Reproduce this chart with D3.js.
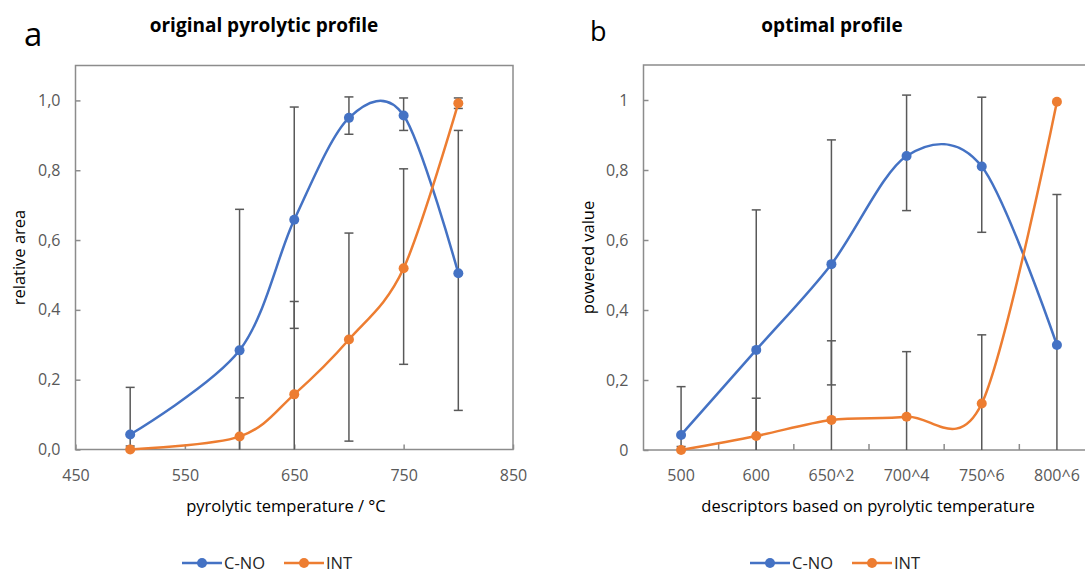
<!DOCTYPE html>
<html>
<head>
<meta charset="utf-8">
<script src="https://cdn.jsdelivr.net/npm/d3@7"></script>
<style>
  body { margin: 0; background: #fff; }
  text { font-family: "Open Sans", "Noto Sans", sans-serif; }
</style>
</head>
<body>
<div id="chart"></div>
<script>
// panel a: original pyrolytic profile
let tempsA = [500, 600, 650, 700, 750, 800]
let cnoA = [0.043, 0.284, 0.658, 0.950, 0.957, 0.505]
let cnoAPlus = [0.135, 0.404, 0.323, 0.060, 0.050, 0.409]
let cnoAMinus = [0.135, 0.404, 0.311, 0.047, 0.043, 0.393]
let intA = [0.0, 0.037, 0.158, 0.315, 0.519, 0.992]
let intAPlus = [0.010, 0.111, 0.266, 0.305, 0.285, 0.015]
let intAMinus = [0.010, 0.111, 0.266, 0.291, 0.275, 0.015]
let xTicksA = [450, 550, 650, 750, 850]

// panel b: optimal profile
let catsB = ["500", "600", "650^2", "700^4", "750^6", "800^6"]
let cnoB = [0.043, 0.286, 0.531, 0.840, 0.810, 0.300]
let cnoBPlus = [0.138, 0.400, 0.355, 0.174, 0.198, 0.430]
let cnoBMinus = [0.138, 0.400, 0.345, 0.156, 0.188, 0.430]
let intB = [0.0, 0.040, 0.086, 0.095, 0.133, 0.995]
let intBPlus = [0.010, 0.108, 0.226, 0.186, 0.196, 0.0]
let intBMinus = [0.010, 0.108, 0.226, 0.186, 0.196, 0.0]

let yTicks = [0, 0.2, 0.4, 0.6, 0.8, 1.0]
let seriesNames = ["C-NO", "INT"]
let colors = ["#4472C4", "#ED7D31"]

let width = 1085,
    height = 574

let svg = d3.select("#chart").append("svg")
    .attr("width", width)
    .attr("height", height)

svg.append("rect")
    .attr("width", width)
    .attr("height", height)
    .attr("fill", "#fff")

function drawPanel(p) {
  let g = svg.append("g")
  let y = p.y

  // plot frame
  g.append("rect")
      .attr("x", p.left)
      .attr("y", y.range()[1])
      .attr("width", p.right - p.left)
      .attr("height", y.range()[0] - y.range()[1])
      .attr("fill", "none")
      .attr("stroke", "#8c8c8c")
      .attr("stroke-width", 1.5)

  // y axis
  let yAxis = g.append("g")
      .attr("transform", "translate(" + p.left + ",0)")
      .call(d3.axisLeft(y)
        .tickValues(yTicks)
        .tickSizeInner(-5)
        .tickSizeOuter(0)
        .tickPadding(15)
        .tickFormat(p.yFormat))
  yAxis.select(".domain").remove()
  yAxis.selectAll("line").attr("stroke", "#8c8c8c").attr("stroke-width", 1.5)
  yAxis.selectAll("text")
      .attr("fill", "#595959")
      .style("font-size", "16px")
      .style("font-family", "'Open Sans', sans-serif")

  // x axis
  let xAxis = g.append("g")
      .attr("transform", "translate(0," + y.range()[0] + ")")
      .call(p.xAxis)
  xAxis.select(".domain").remove()
  xAxis.selectAll("line").attr("stroke", "#8c8c8c").attr("stroke-width", 1.5)
  xAxis.selectAll("text")
      .attr("fill", "#595959")
      .style("font-size", "16px")
      .style("font-family", "'Open Sans', sans-serif")

  if (p.extraTicks) {
    g.selectAll(".btick")
      .data(p.extraTicks)
      .enter().append("line")
        .attr("x1", d => d)
        .attr("x2", d => d)
        .attr("y1", y.range()[0])
        .attr("y2", y.range()[0] - 6)
        .attr("stroke", "#8c8c8c")
        .attr("stroke-width", 1.5)
  }

  let clip = v => Math.max(0, Math.min(1.1, v))

  // error bars (both series)
  p.series.forEach(function(s) {
    let eb = g.append("g")
        .attr("stroke", "#595959")
        .attr("stroke-width", 1.5)
    s.values.forEach(function(v, i) {
      let xp = p.xPos(i)
      let hi = v + s.plus[i],
          lo = v - s.minus[i]
      if (s.plus[i] == 0 && s.minus[i] == 0) return
      eb.append("line")
          .attr("x1", xp).attr("x2", xp)
          .attr("y1", y(clip(hi))).attr("y2", y(clip(lo)))
      if (hi <= 1.1) {
        eb.append("line")
            .attr("x1", xp - 4.5).attr("x2", xp + 4.5)
            .attr("y1", y(hi)).attr("y2", y(hi))
      }
      if (lo >= 0) {
        eb.append("line")
            .attr("x1", xp - 4.5).attr("x2", xp + 4.5)
            .attr("y1", y(lo)).attr("y2", y(lo))
      }
    })
  })

  // smoothed lines, like excel's
  let line = d3.line()
      .x((d, i) => p.xPos(i))
      .y(d => y(d))
      .curve(d3.curveCardinal.tension(0.05))

  p.series.forEach(function(s, k) {
    g.append("path")
        .datum(s.values)
        .attr("d", line)
        .attr("fill", "none")
        .attr("stroke", colors[k])
        .attr("stroke-width", 2.5)
  })

  p.series.forEach(function(s, k) {
    g.selectAll(".dot" + k)
      .data(s.values)
      .enter().append("circle")
        .attr("cx", (d, i) => p.xPos(i))
        .attr("cy", d => y(d))
        .attr("r", 5)
        .attr("fill", colors[k])
  })

  // titles
  g.append("text")
      .attr("x", p.titleX)
      .attr("y", 32)
      .attr("text-anchor", "middle")
      .attr("font-weight", "bold")
      .style("font-size", "19px")
      .attr("fill", "#000")
      .text(p.title)

  g.append("text")
      .attr("x", p.letterX)
      .attr("y", p.letterY)
      .style("font-size", p.letterSize)
      .attr("fill", "#000")
      .text(p.letter)

  g.append("text")
      .attr("transform", "translate(" + p.yTitleX + "," + ((y.range()[0] + y.range()[1]) / 2) + ") rotate(-90)")
      .attr("text-anchor", "middle")
      .style("font-size", "16.5px")
      .attr("fill", "#000")
      .text(p.yTitle)

  g.append("text")
      .attr("x", p.xTitleX)
      .attr("y", 512)
      .attr("text-anchor", "middle")
      .style("font-size", "16.5px")
      .attr("fill", "#000")
      .text(p.xTitle)

  // legend
  let leg = g.selectAll(".legend")
    .data(seriesNames)
    .enter().append("g")
      .attr("transform", (d, i) => "translate(" + (p.legendX + i * 102) + ",563)")
  leg.append("line")
      .attr("x1", 0).attr("x2", 40)
      .attr("stroke", (d, i) => colors[i])
      .attr("stroke-width", 2.5)
  leg.append("circle")
      .attr("cx", 20)
      .attr("r", 5)
      .attr("fill", (d, i) => colors[i])
  leg.append("text")
      .attr("x", 42)
      .attr("dy", "0.35em")
      .style("font-size", "16.5px")
      .attr("fill", "#262626")
      .text(d => d)
}

let commaFmt = d => d3.format(".1f")(d).replace(".", ",")

let yA = d3.scaleLinear().domain([0, 1.1]).range([449.5, 65.5])
let xA = d3.scaleLinear().domain([450, 850]).range([75.5, 513])

drawPanel({
  left: 75.5, right: 513, y: yA,
  yFormat: commaFmt,
  xAxis: d3.axisBottom(xA).tickValues(xTicksA).tickSizeInner(-5).tickSizeOuter(0).tickPadding(20),
  xPos: i => xA(tempsA[i]),
  series: [
    {values: cnoA, plus: cnoAPlus, minus: cnoAMinus},
    {values: intA, plus: intAPlus, minus: intAMinus}
  ],
  title: "original pyrolytic profile", titleX: 264,
  letter: "a", letterX: 24, letterY: 46, letterSize: "33px",
  yTitle: "relative area", yTitleX: 25,
  xTitle: "pyrolytic temperature / °C", xTitleX: 286,
  legendX: 182
})

let yB = d3.scaleLinear().domain([0, 1.1]).range([450, 65])
let xB = d3.scaleBand().domain(catsB).range([643.5, 1094.5])

drawPanel({
  left: 643.5, right: 1094.5, y: yB,
  yFormat: d => (d == 0 || d == 1) ? d3.format("d")(d) : commaFmt(d),
  xAxis: d3.axisBottom(xB).tickSize(0).tickPadding(20),
  extraTicks: catsB.slice(1).map(c => xB(c)),
  xPos: i => xB(catsB[i]) + xB.bandwidth() / 2,
  series: [
    {values: cnoB, plus: cnoBPlus, minus: cnoBMinus},
    {values: intB, plus: intBPlus, minus: intBMinus}
  ],
  title: "optimal profile", titleX: 832,
  letter: "b", letterX: 590, letterY: 41, letterSize: "27px",
  yTitle: "powered value", yTitleX: 594,
  xTitle: "descriptors based on pyrolytic temperature", xTitleX: 868,
  legendX: 750
})
</script>
</body>
</html>
